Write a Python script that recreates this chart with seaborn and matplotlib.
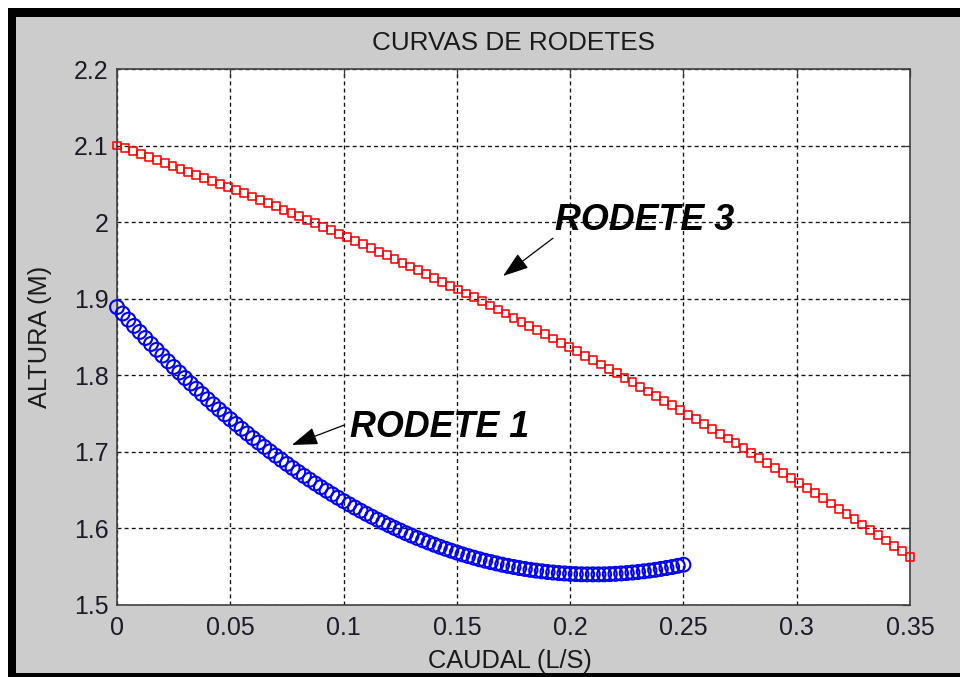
import numpy as np
import pandas as pd
import matplotlib
matplotlib.use("Agg")
import matplotlib.pyplot as plt
from matplotlib.patches import Rectangle
import seaborn as sns

# ---------------- data ----------------
title = "CURVAS DE RODETES"
x_label = "CAUDAL (L/S)"
y_label = "ALTURA (M)"

x_ticks = [0, 0.05, 0.1, 0.15, 0.2, 0.25, 0.3, 0.35]
x_tick_labels = ["0", "0.05", "0.1", "0.15", "0.2", "0.25", "0.3", "0.35"]
y_ticks = [1.5, 1.6, 1.7, 1.8, 1.9, 2.0, 2.1, 2.2]
y_tick_labels = ["1.5", "1.6", "1.7", "1.8", "1.9", "2", "2.1", "2.2"]

# RODETE 3 (red squares), caudal 0 .. 0.35
q_rodete3 = np.linspace(0.0, 0.35, 101)
h_rodete3 = [
    2.1000, 2.0964, 2.0927, 2.0890, 2.0852, 2.0815, 2.0777, 2.0738, 2.0699, 2.0660,
    2.0621, 2.0581, 2.0540, 2.0500, 2.0459, 2.0418, 2.0376, 2.0334, 2.0292, 2.0249,
    2.0206, 2.0163, 2.0119, 2.0075, 2.0030, 1.9986, 1.9941, 1.9895, 1.9849, 1.9803,
    1.9757, 1.9710, 1.9662, 1.9615, 1.9567, 1.9519, 1.9470, 1.9421, 1.9372, 1.9322,
    1.9272, 1.9222, 1.9171, 1.9120, 1.9068, 1.9017, 1.8965, 1.8912, 1.8859, 1.8806,
    1.8753, 1.8699, 1.8644, 1.8590, 1.8535, 1.8480, 1.8424, 1.8368, 1.8312, 1.8255,
    1.8198, 1.8141, 1.8083, 1.8025, 1.7966, 1.7908, 1.7849, 1.7789, 1.7729, 1.7669,
    1.7609, 1.7548, 1.7486, 1.7425, 1.7363, 1.7301, 1.7238, 1.7175, 1.7112, 1.7048,
    1.6984, 1.6920, 1.6855, 1.6790, 1.6724, 1.6659, 1.6593, 1.6526, 1.6459, 1.6392,
    1.6325, 1.6257, 1.6188, 1.6120, 1.6051, 1.5982, 1.5912, 1.5842, 1.5772, 1.5701,
    1.5630,
]

# RODETE 1 (blue circles), caudal 0 .. 0.25
q_rodete1 = np.linspace(0.0, 0.25, 101)
h_rodete1 = [
    1.8890, 1.8807, 1.8726, 1.8645, 1.8566, 1.8487, 1.8409, 1.8333, 1.8257, 1.8182,
    1.8108, 1.8036, 1.7964, 1.7893, 1.7824, 1.7755, 1.7687, 1.7620, 1.7554, 1.7490,
    1.7426, 1.7363, 1.7301, 1.7240, 1.7180, 1.7122, 1.7064, 1.7007, 1.6951, 1.6896,
    1.6842, 1.6789, 1.6737, 1.6686, 1.6636, 1.6587, 1.6539, 1.6492, 1.6446, 1.6401,
    1.6357, 1.6314, 1.6272, 1.6231, 1.6191, 1.6152, 1.6114, 1.6077, 1.6041, 1.6006,
    1.5972, 1.5938, 1.5906, 1.5875, 1.5845, 1.5816, 1.5787, 1.5760, 1.5734, 1.5709,
    1.5685, 1.5661, 1.5639, 1.5618, 1.5597, 1.5578, 1.5560, 1.5543, 1.5526, 1.5511,
    1.5497, 1.5483, 1.5471, 1.5459, 1.5449, 1.5440, 1.5431, 1.5424, 1.5417, 1.5412,
    1.5407, 1.5404, 1.5401, 1.5400, 1.5400, 1.5400, 1.5401, 1.5404, 1.5407, 1.5412,
    1.5417, 1.5424, 1.5431, 1.5440, 1.5449, 1.5459, 1.5471, 1.5483, 1.5496, 1.5511,
    1.5526,
]

label3 = "RODETE 3"
label3_pos = (0.1933, 1.9897)
arrow3_tail = (0.1924, 1.979)
arrow3_head = (0.1704, 1.9297)

label1 = "RODETE 1"
label1_pos = (0.1028, 1.7194)
arrow1_tail = (0.1003, 1.735)
arrow1_head = (0.0772, 1.709)

# ---------------- style ----------------
sns.set_style("white")
plt.rcParams["font.family"] = ["Liberation Sans", "DejaVu Sans"]

W, H = 960, 677
fig = plt.figure(figsize=(W / 100, H / 100), dpi=100, facecolor="white")

# MATLAB-like frame: black border band + gray figure background
fig.add_artist(Rectangle((8 / W, 0), 1 - 8 / W, 669 / H, transform=fig.transFigure,
                         facecolor="black", edgecolor="none", zorder=-20))
fig.add_artist(Rectangle((16 / W, 4 / H), 1 - 16 / W, 656 / H, transform=fig.transFigure,
                         facecolor="#cccccc", edgecolor="none", zorder=-10))

ax = fig.add_axes([117 / W, 72 / H, 793 / W, 536 / H])
ax.set_zorder(1)
ax.set_facecolor("white")

df3 = pd.DataFrame({"q": q_rodete3, "h": h_rodete3})
df1 = pd.DataFrame({"q": q_rodete1, "h": h_rodete1})

sns.scatterplot(data=df3, x="q", y="h", ax=ax, marker="s", s=32,
                facecolor="none", edgecolor="#ff0000", linewidth=1.15,
                clip_on=False, zorder=3)
sns.scatterplot(data=df1, x="q", y="h", ax=ax, marker="o", s=100,
                facecolor="none", edgecolor="#0000ff", linewidth=1.5,
                clip_on=False, zorder=3)

ax.set_xlim(0, 0.35)
ax.set_ylim(1.5, 2.2)
ax.set_xticks(x_ticks)
ax.set_xticklabels(x_tick_labels)
ax.set_yticks(y_ticks)
ax.set_yticklabels(y_tick_labels)

ax.grid(True, color="#111111", linestyle=(0, (3.0, 2.4)), linewidth=0.95)
ax.set_axisbelow(True)

for s in ax.spines.values():
    s.set_visible(True)
    s.set_color("#404040")
    s.set_linewidth(1.2)

ax.tick_params(axis="both", which="both", direction="in", length=6, width=0.9,
               color="#333333", top=True, right=True, labelsize=18,
               labelcolor="#1a1a2a")
ax.tick_params(axis="y", pad=6)
ax.tick_params(axis="x", pad=8)

ax.set_title(title, fontsize=18.8, color="#1a1a1a", pad=14)
ax.set_xlabel(x_label, fontsize=18.3, color="#1a1a1a", va="baseline")
ax.xaxis.set_label_coords(0.495, -0.1175)
ax.set_ylabel(y_label, fontsize=18.3, color="#1a1a1a", va="center")
ax.yaxis.set_label_coords(-0.097, 0.5)

arrow_kw = dict(arrowstyle="-|>,head_length=1.6,head_width=0.55", color="black",
                lw=0.9, shrinkA=0, shrinkB=0, mutation_scale=10)
ax.annotate("", xy=arrow3_head, xytext=arrow3_tail, arrowprops=arrow_kw, zorder=4)
ax.annotate("", xy=arrow1_head, xytext=arrow1_tail, arrowprops=arrow_kw, zorder=4)

ax.text(*label3_pos, label3, fontsize=25.8, fontweight="bold", fontstyle="italic",
        color="black", ha="left", va="baseline", zorder=5)
ax.text(*label1_pos, label1, fontsize=25.8, fontweight="bold", fontstyle="italic",
        color="black", ha="left", va="baseline", zorder=5)

fig.savefig("out.png", dpi=100, facecolor="white")
